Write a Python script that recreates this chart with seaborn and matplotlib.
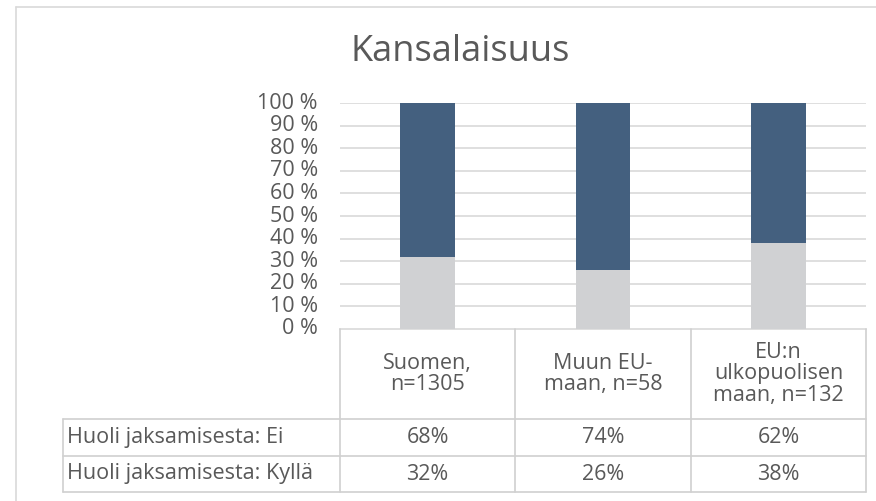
import matplotlib
matplotlib.use("Agg")
import matplotlib.pyplot as plt
import seaborn as sns
import pandas as pd
from matplotlib.lines import Line2D

categories = ["Suomen,\nn=1305", "Muun EU-\nmaan, n=58", "EU:n\nulkopuolisen\nmaan, n=132"]
ei_values = [68, 74, 62]
kylla_values = [32, 26, 38]
row_labels = ["Huoli jaksamisesta: Ei", "Huoli jaksamisesta: Kyllä"]
title = "Kansalaisuus"
yticks = list(range(0, 101, 10))

sns.set_theme(style="white")
plt.rcParams['font.family'] = ['Open Sans', 'DejaVu Sans']

TEXT = "#595959"
GRID = "#D9D9D9"
DARK = "#44607F"
LIGHT = "#D0D1D3"
FS = 15.5

W, H = 876, 501
fig = plt.figure(figsize=(W / 100, H / 100), dpi=100)

def fx(x):
    return x / W

def fy(y):
    return 1 - y / H

# outer border
fig.add_artist(Line2D([fx(16), fx(16)], [fy(7), fy(520)], color=GRID, lw=1.2))
fig.add_artist(Line2D([fx(16), fx(900)], [fy(7), fy(7)], color=GRID, lw=1.2))

left, right, top, bottom = 340, 866, 103, 329
ax = fig.add_axes([fx(left), fy(bottom), fx(right - left), (bottom - top) / H])

df = pd.DataFrame({"cat": categories, "ei": ei_values, "kylla": kylla_values})
df["total"] = df["ei"] + df["kylla"]
sns.barplot(data=df, x="cat", y="total", color=DARK, width=0.31, ax=ax,
            saturation=1, zorder=3, linewidth=0, edgecolor="none")
sns.barplot(data=df, x="cat", y="kylla", color=LIGHT, width=0.31, ax=ax,
            saturation=1, zorder=4, linewidth=0, edgecolor="none")

ax.set_ylim(0, 100)
ax.set_xlim(-0.5, len(categories) - 0.5)
ax.set_yticks(yticks)
ax.set_yticklabels([f"{v} %" for v in yticks], color=TEXT, fontsize=FS)
ax.set_xticks([])
ax.set_xlabel("")
ax.set_ylabel("")
ax.tick_params(axis="y", length=0, pad=16)
for v in yticks[1:]:
    ax.axhline(v, color=GRID, lw=1.2, zorder=1)
for s in ["top", "right", "left"]:
    ax.spines[s].set_visible(False)
ax.spines["bottom"].set_color(GRID)
ax.spines["bottom"].set_linewidth(1.2)
for lab in ax.get_yticklabels():
    lab.set_verticalalignment("center")

fig.text(fx(460), fy(52), title, ha="center", va="center", fontsize=26, color=TEXT)

# data table
cols = [340, 515, 691, 866]
row_y = [419, 456, 492]
tl = 63
lc = "#D0D0D0"
for x in cols:
    fig.add_artist(Line2D([fx(x), fx(x)], [fy(329), fy(492)], color=lc, lw=1.2))
fig.add_artist(Line2D([fx(tl), fx(tl)], [fy(419), fy(492)], color=lc, lw=1.2))
for y in row_y:
    fig.add_artist(Line2D([fx(tl), fx(866)], [fy(y), fy(y)], color=lc, lw=1.2))

for i, cat in enumerate(categories):
    cx = (cols[i] + cols[i + 1]) / 2
    fig.text(fx(cx), fy(374), cat, ha="center", va="center", fontsize=FS,
             color=TEXT, linespacing=1.05)
    fig.text(fx(cx), fy(437.5), f"{ei_values[i]}%", ha="center", va="center",
             fontsize=FS, color=TEXT)
    fig.text(fx(cx), fy(474), f"{kylla_values[i]}%", ha="center", va="center",
             fontsize=FS, color=TEXT)

fig.text(fx(67), fy(437.5), row_labels[0], ha="left", va="center", fontsize=FS, color=TEXT)
fig.text(fx(67), fy(474), row_labels[1], ha="left", va="center", fontsize=FS, color=TEXT)

fig.savefig("out.png", dpi=100)
